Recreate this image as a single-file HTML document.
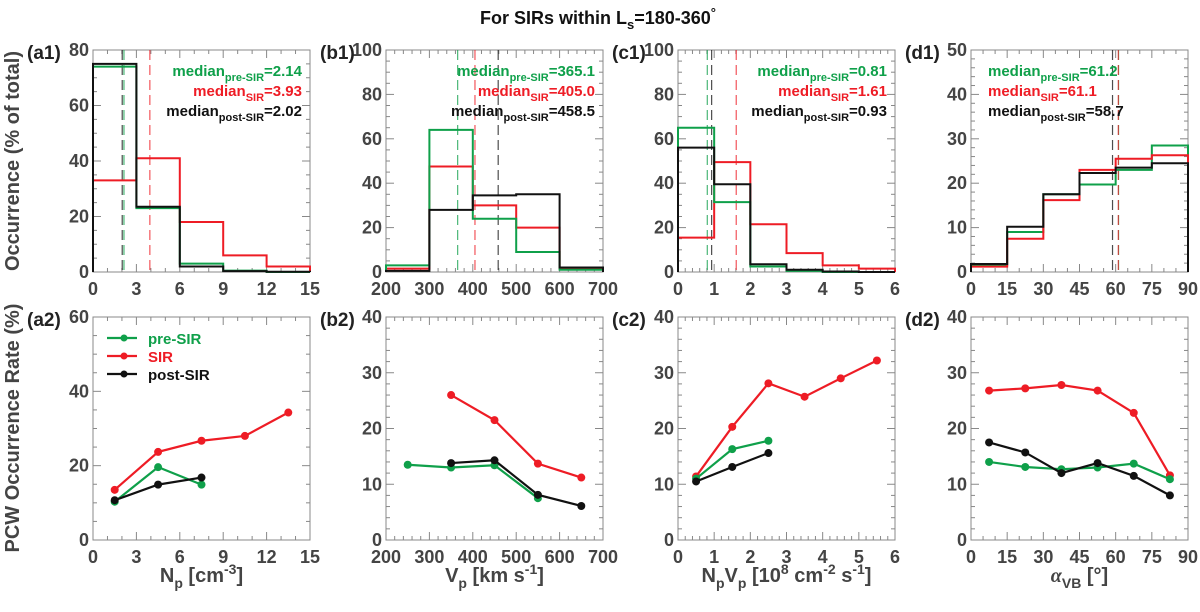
<!DOCTYPE html>
<html><head><meta charset="utf-8">
<style>
body{margin:0;background:#fff;}
svg{display:block;font-family:"Liberation Sans",Arial,sans-serif;font-weight:bold;}
</style></head>
<body>
<svg id="chart" width="1200" height="612" viewBox="0 0 1200 612" xmlns="http://www.w3.org/2000/svg">
<text x="598" y="24" text-anchor="middle" font-size="18" fill="#111">For SIRs within L<tspan font-size="13" dy="5">s</tspan><tspan dy="-5">=180-360</tspan><tspan font-size="13" dy="-7">°</tspan></text>
<text transform="translate(19,161) rotate(-90)" text-anchor="middle" font-size="20" fill="#444">Occurrence (% of total)</text>
<text transform="translate(19,428) rotate(-90)" text-anchor="middle" font-size="20" fill="#444">PCW Occurrence Rate (%)</text>
</svg>
<script>
// ---- data ----
const histBinsA=[0,3,6,9,12,15];
const histA_pre=[74,23,3,0.5,0];
const histA_sir=[33,41,18,6,2];
const histA_post=[75,23.5,2,0.3,0.1];
const medA=[2.14,3.93,2.02];
const histBinsB=[200,300,400,500,600,700];
const histB_pre=[3,64,24,9,1];
const histB_sir=[1.5,47.5,30,20,1.5];
const histB_post=[0.5,28,34.5,35,2];
const medB=[365.1,405.0,458.5];
const histBinsC=[0,1,2,3,4,5,6];
const histC_pre=[65,31.5,2.5,0.5,0,0];
const histC_sir=[15.5,49.5,21.5,8.5,3,1.5];
const histC_post=[56,39.5,3.5,1,0.2,0];
const medC=[0.81,1.61,0.93];
const histBinsD=[0,15,30,45,60,75,90];
const histD_pre=[1.5,9,17.5,19.7,23,28.5];
const histD_sir=[1.2,7.5,16.2,23,25.5,26.3];
const histD_post=[1.8,10.2,17.5,22.3,23.5,24.5];
const medD=[61.2,61.1,58.7];

const xA=[1.5,4.5,7.5,10.5,13.5];
const rateA_pre=[10.3,19.6,14.9];
const rateA_sir=[13.5,23.7,26.7,28,34.3];
const rateA_post=[10.7,14.9,16.8];
const xB=[250,350,450,550,650];
const rateB_pre=[13.5,13,13.4,7.5];
const rateB_sir=[26,21.5,13.7,11.2];
const rateB_post=[13.8,14.3,8.1,6.1];
const xC=[0.5,1.5,2.5,3.5,4.5,5.5];
const rateC_pre=[11.0,16.3,17.8];
const rateC_sir=[11.4,20.3,28.1,25.7,29.0,32.2];
const rateC_post=[10.5,13.1,15.6];
const xD=[7.5,22.5,37.5,52.5,67.5,82.5];
const rateD_pre=[14.0,13.1,12.7,13.0,13.7,10.9];
const rateD_sir=[26.8,27.2,27.8,26.8,22.8,11.6];
const rateD_post=[17.5,15.7,12.0,13.8,11.5,8.0];

const G='#0fa04a',R='#ee1c25',K='#111';
const svg=document.getElementById('chart');
const NS='http://www.w3.org/2000/svg';
function mk(tag,attrs,parent){const e=document.createElementNS(NS,tag);for(const k in attrs)e.setAttribute(k,attrs[k]);(parent||svg).appendChild(e);return e;}

const lefts=[93,386,678,971],W=217;
function panel(id,col,top,bot,xmin,xmax,xstep,xminor,ymin,ymax,ystep,yminor,label){
  const L=lefts[col],Rr=L+W;
  const g=mk('g',{});
  
  
  const sx=v=>L+(v-xmin)/(xmax-xmin)*W;
  const sy=v=>bot-(v-ymin)/(ymax-ymin)*(bot-top);
  const fr=mk('rect',{x:L,y:top,width:W,height:bot-top,fill:'none',stroke:'#888','stroke-width':1},g);
  
  
  for(let v=xmin;v<=xmax+1e-9;v+=xminor){const maj=Math.abs(Math.round((v-xmin)/xstep)*xstep-(v-xmin))<1e-6;const t=maj?8:4;
    mk('line',{x1:sx(v),x2:sx(v),y1:bot,y2:bot-t,stroke:'#888'},g);mk('line',{x1:sx(v),x2:sx(v),y1:top,y2:top+t,stroke:'#888'},g);}
  for(let v=ymin;v<=ymax+1e-9;v+=yminor){const maj=Math.abs(Math.round((v-ymin)/ystep)*ystep-(v-ymin))<1e-6;const t=maj?8:4;
    mk('line',{x1:L,x2:L+t,y1:sy(v),y2:sy(v),stroke:'#888'},g);mk('line',{x1:Rr,x2:Rr-t,y1:sy(v),y2:sy(v),stroke:'#888'},g);}
  for(let v=xmin;v<=xmax+1e-9;v+=xstep){const t=mk('text',{x:sx(v),y:bot+23,'text-anchor':'middle','font-size':18,fill:'#444'},g);t.textContent=String(+v.toFixed(2));
    
    }
  for(let v=ymin;v<=ymax+1e-9;v+=ystep){const t=mk('text',{x:L-4,y:sy(v)+6,'text-anchor':'end','font-size':18,fill:'#444'},g);t.textContent=String(v);
    
    }
  const lb=mk('text',{x:L-66,y:top+9,'font-size':19,fill:'#222'},g);lb.textContent=label;
  
  
  return {g,sx,sy,L,Rr,top,bot};
}
function hist(p,bins,vals,color,name){
  let d='M'+p.sx(bins[0])+','+p.bot;
  vals.forEach((v,i)=>{d+=' L'+p.sx(bins[i])+','+p.sy(v)+' L'+p.sx(bins[i+1])+','+p.sy(v);});
  d+=' L'+p.sx(bins[bins.length-1])+','+p.bot;
  const e=mk('path',{d,fill:'none',stroke:color,'stroke-width':2},p.g);
  
  
}
function medLine(p,v,color,name){
  const e=mk('line',{x1:p.sx(v),x2:p.sx(v),y1:p.top,y2:p.bot,stroke:color,'stroke-width':1.2,'stroke-dasharray':'10,5',opacity:0.75},p.g);
  
  
}
function medText(p,meds,anchorRight){
  const cols=[G,R,K],subs=['pre-SIR','SIR','post-SIR'],ys=[p.top+26,p.top+46,p.top+66];
  meds.forEach((m,i)=>{
    const x=anchorRight?p.Rr-8:p.L+17;
    const t=mk('text',{x,y:ys[i],'text-anchor':anchorRight?'end':'start','font-size':15,fill:cols[i]},p.g);
    
    
    t.innerHTML='median<tspan font-size="11" dy="5">'+subs[i]+'</tspan><tspan dy="-5">='+m.toFixed(m>=10?1:2)+'</tspan>';
  });
}
function series(p,xs,ys,color,name){
  const pts=ys.map((v,i)=>[p.sx(xs[i]),p.sy(v)]);
  const e=mk('polyline',{points:pts.map(q=>q.join(',')).join(' '),fill:'none',stroke:color,'stroke-width':2.2},p.g);
  
  
  pts.forEach(q=>{const c=mk('circle',{cx:q[0],cy:q[1],r:4,fill:color},p.g);
    
    });
}
const T1=50,B1=272,T2=317,B2=540;
let p=panel('a1',0,T1,B1,0,15,3,1,0,80,20,5,'(a1)');
medLine(p,medA[0],G,'median-pre-sir');medLine(p,medA[2],K,'median-post-sir');medLine(p,medA[1],R,'median-sir');
hist(p,histBinsA,histA_sir,R,'hist-sir');hist(p,histBinsA,histA_pre,G,'hist-pre-sir');hist(p,histBinsA,histA_post,K,'hist-post-sir');medText(p,medA,true);
p=panel('b1',1,T1,B1,200,700,100,20,0,100,20,5,'(b1)');
medLine(p,medB[0],G,'median-pre-sir');medLine(p,medB[2],K,'median-post-sir');medLine(p,medB[1],R,'median-sir');
hist(p,histBinsB,histB_sir,R,'hist-sir');hist(p,histBinsB,histB_pre,G,'hist-pre-sir');hist(p,histBinsB,histB_post,K,'hist-post-sir');medText(p,medB,true);
p=panel('c1',2,T1,B1,0,6,1,0.2,0,100,20,5,'(c1)');
medLine(p,medC[0],G,'median-pre-sir');medLine(p,medC[2],K,'median-post-sir');medLine(p,medC[1],R,'median-sir');
hist(p,histBinsC,histC_sir,R,'hist-sir');hist(p,histBinsC,histC_pre,G,'hist-pre-sir');hist(p,histBinsC,histC_post,K,'hist-post-sir');medText(p,medC,true);
p=panel('d1',3,T1,B1,0,90,15,5,0,50,10,2,'(d1)');
medLine(p,medD[0],G,'median-pre-sir');medLine(p,medD[2],K,'median-post-sir');medLine(p,medD[1],R,'median-sir');
hist(p,histBinsD,histD_pre,G,'hist-pre-sir');hist(p,histBinsD,histD_sir,R,'hist-sir');hist(p,histBinsD,histD_post,K,'hist-post-sir');medText(p,medD,false);
p=panel('a2',0,T2,B2,0,15,3,1,0,60,20,5,'(a2)');
series(p,xA,rateA_sir,R,'sir');series(p,xA,rateA_pre,G,'pre-sir');series(p,xA,rateA_post,K,'post-sir');
[['pre-SIR',G],['SIR',R],['post-SIR',K]].forEach((it,i)=>{
  const y=338+i*18;
  const lg=mk('g',{},p.g);
  
  
  mk('line',{x1:107,x2:137,y1:y,y2:y,stroke:it[1],'stroke-width':2.2},lg);
  mk('circle',{cx:124,cy:y,r:3.5,fill:it[1]},lg);
  const t=mk('text',{x:148,y:y+6,'font-size':15,fill:it[1]},lg);t.textContent=it[0];
});
p=panel('b2',1,T2,B2,200,700,100,20,0,40,10,2,'(b2)');
series(p,xB.slice(1),rateB_sir,R,'sir');series(p,xB.slice(0,4),rateB_pre,G,'pre-sir');series(p,xB.slice(1),rateB_post,K,'post-sir');
p=panel('c2',2,T2,B2,0,6,1,0.2,0,40,10,2,'(c2)');
series(p,xC,rateC_sir,R,'sir');series(p,xC,rateC_pre,G,'pre-sir');series(p,xC,rateC_post,K,'post-sir');
p=panel('d2',3,T2,B2,0,90,15,5,0,40,10,2,'(d2)');
series(p,xD,rateD_sir,R,'sir');series(p,xD,rateD_pre,G,'pre-sir');series(p,xD,rateD_post,K,'post-sir');

const xt=[
 ['x-axis-title-np',201.5,'N<tspan font-size="14" dy="6">p</tspan><tspan dy="-6"> [cm</tspan><tspan font-size="14" dy="-8">-3</tspan><tspan dy="8">]</tspan>'],
 ['x-axis-title-vp',494.5,'V<tspan font-size="14" dy="6">p</tspan><tspan dy="-6"> [km s</tspan><tspan font-size="14" dy="-8">-1</tspan><tspan dy="8">]</tspan>'],
 ['x-axis-title-npvp',786.5,'N<tspan font-size="14" dy="6">p</tspan><tspan dy="-6">V</tspan><tspan font-size="14" dy="6">p</tspan><tspan dy="-6"> [10</tspan><tspan font-size="14" dy="-8">8</tspan><tspan dy="8"> cm</tspan><tspan font-size="14" dy="-8">-2</tspan><tspan dy="8"> s</tspan><tspan font-size="14" dy="-8">-1</tspan><tspan dy="8">]</tspan>'],
 ['x-axis-title-alpha',1079.5,'<tspan font-family="Liberation Serif" font-style="italic">α</tspan><tspan font-size="14" dy="6">VB</tspan><tspan dy="-6"> [°]</tspan>']
];
xt.forEach(a=>{const t=mk('text',{x:a[1],y:582,'text-anchor':'middle','font-size':20,fill:'#444'});t.innerHTML=a[2];
  
  });
</script>
</body></html>
